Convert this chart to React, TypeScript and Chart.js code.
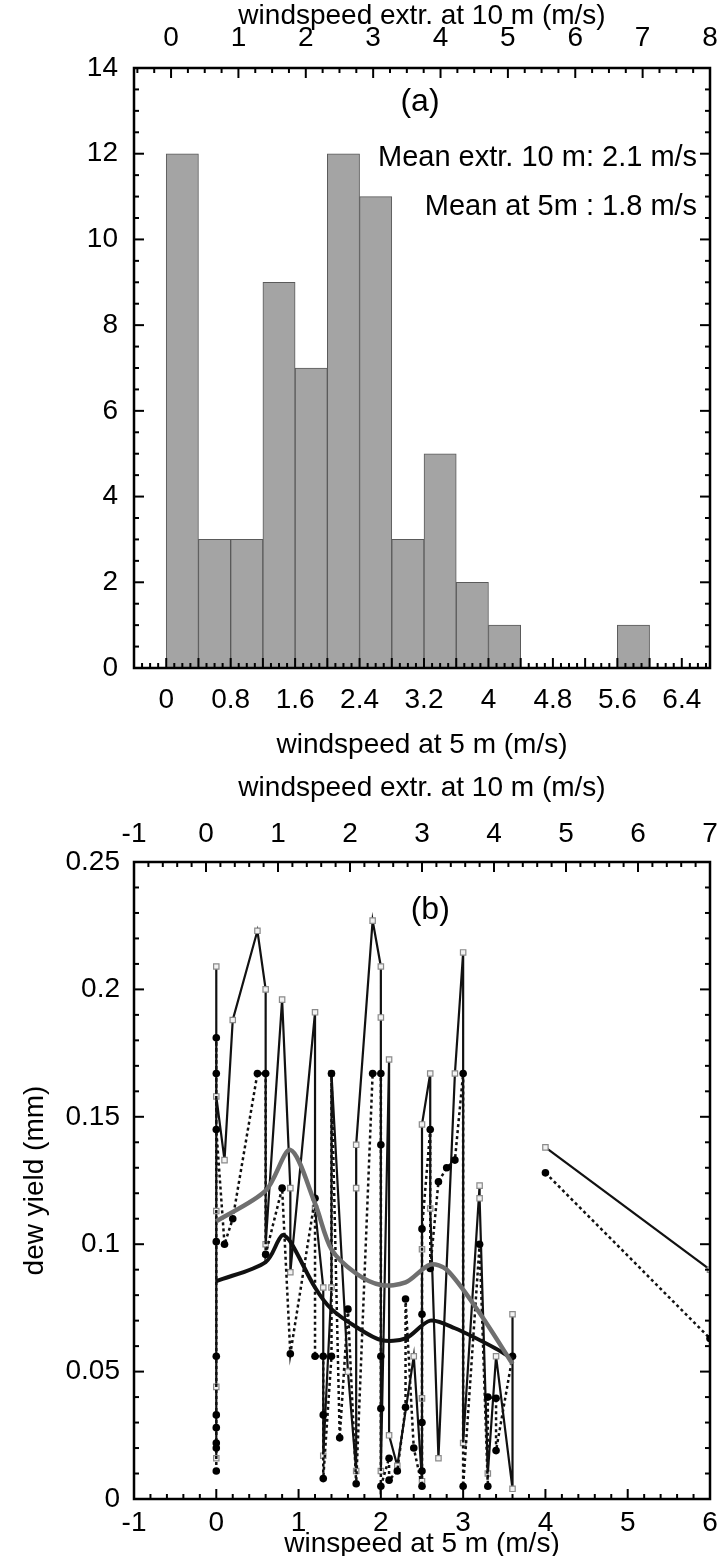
import React, { useEffect, useRef } from "react";
import { Chart, registerables } from "chart.js";
Chart.register(...registerables);

const FONT = "'Liberation Sans', Arial, sans-serif";

// ---------- (a) histogram ----------
const binCenters = [0.2, 0.6, 1.0, 1.4, 1.8, 2.2, 2.6, 3.0, 3.4, 3.8, 4.2, 4.6, 5.0, 5.4, 5.8, 6.2];
const binCounts = [12, 3, 3, 9, 7, 12, 11, 3, 5, 2, 1, 0, 0, 0, 1, 0];
const histBottomTicks = [0, 0.8, 1.6, 2.4, 3.2, 4, 4.8, 5.6, 6.4];
const histTopTicks = [0, 1, 2, 3, 4, 5, 6, 7, 8];
const histYTicks = [0, 2, 4, 6, 8, 10, 12, 14];

// ---------- (b) dew yield ----------
const sqX = [0, 0, 0, 0, 0, 0.1, 0.2, 0.5, 0.6, 0.6, 0.8, 0.9, 0.9, 1.2, 1.2, 1.3, 1.3, 1.4, 1.4, 1.6, 1.7, 1.7, 1.7, 1.9, 2.0, 2.0, 2.0, 2.1, 2.1, 2.2, 2.4, 2.5, 2.5, 2.5, 2.5, 2.6, 2.6, 2.7, 2.9, 3.0, 3.0, 3.2, 3.2, 3.3, 3.4, 3.6, 3.6];
const sqY = [0.016, 0.044, 0.113, 0.209, 0.158, 0.133, 0.188, 0.223, 0.2, 0.1, 0.196, 0.122, 0.089, 0.191, 0.114, 0.083, 0.017, 0.083, 0.167, 0.05, 0.011, 0.122, 0.139, 0.227, 0.209, 0.189, 0.011, 0.1725, 0.025, 0.013, 0.056, 0.007, 0.0395, 0.098, 0.147, 0.167, 0.114, 0.016, 0.167, 0.2145, 0.022, 0.123, 0.118, 0.01, 0.056, 0.004, 0.0725];
const ciX = [0, 0, 0, 0, 0, 0, 0, 0, 0, 0, 0.1, 0.2, 0.5, 0.6, 0.6, 0.8, 0.9, 1.2, 1.2, 1.3, 1.3, 1.3, 1.4, 1.4, 1.5, 1.6, 1.7, 1.9, 2.0, 2.0, 2.0, 2.0, 2.0, 2.1, 2.1, 2.2, 2.3, 2.3, 2.4, 2.5, 2.5, 2.5, 2.5, 2.5, 2.6, 2.6, 2.7, 2.8, 2.9, 3.0, 3.0, 3.2, 3.3, 3.3, 3.4, 3.4, 3.6];
const ciY = [0.011, 0.02, 0.022, 0.028, 0.033, 0.056, 0.101, 0.181, 0.167, 0.145, 0.1, 0.11, 0.167, 0.167, 0.096, 0.122, 0.057, 0.118, 0.056, 0.056, 0.033, 0.008, 0.056, 0.167, 0.024, 0.0745, 0.006, 0.167, 0.167, 0.139, 0.056, 0.0355, 0.005, 0.016, 0.0074, 0.011, 0.036, 0.0785, 0.02, 0.005, 0.011, 0.03, 0.0725, 0.106, 0.145, 0.0905, 0.1245, 0.13, 0.133, 0.167, 0.005, 0.1, 0.005, 0.04, 0.0395, 0.019, 0.056];
const sqRightX = [4, 6];
const sqRightY = [0.138, 0.09];
const ciRightX = [4, 6];
const ciRightY = [0.128, 0.063];
const grayMeanX = [0, 0.6, 0.9, 1.2, 1.4, 1.7, 2.0, 2.3, 2.6, 2.8, 3.2, 3.6];
const grayMeanY = [0.109, 0.121, 0.137, 0.116, 0.098, 0.0885, 0.084, 0.085, 0.092, 0.09, 0.073, 0.053];
const blackMeanX = [0, 0.6, 0.8, 0.9, 1.2, 1.4, 1.7, 2.0, 2.3, 2.6, 2.9, 3.4, 3.6];
const blackMeanY = [0.0855, 0.093, 0.1035, 0.101, 0.083, 0.0745, 0.0675, 0.0624, 0.063, 0.07, 0.067, 0.059, 0.055];
const dewBottomTicks = [-1, 0, 1, 2, 3, 4, 5, 6];
const dewTopTicks = [-1, 0, 1, 2, 3, 4, 5, 6, 7];
const dewYTicks = [0, 0.05, 0.1, 0.15, 0.2, 0.25];

const pts = (xs: number[], ys: number[]) => xs.map((x, i) => ({ x, y: ys[i] }));

const framePlugin = {
  id: "frameTicks",
  afterDatasetsDraw(chart: any, _a: any, opts: any) {
    const { ctx, chartArea } = chart;
    const { left, right, top, bottom } = chartArea;
    ctx.save();
    ctx.strokeStyle = "#000";
    ctx.lineWidth = 2;
    for (const spec of opts.specs || []) {
      const scale = chart.scales[spec.scale];
      const start = Math.ceil(scale.min / spec.minor - 1e-6);
      for (let k = start; k * spec.minor <= scale.max + 1e-9; k++) {
        const v = k * spec.minor;
        const r = v / spec.major;
        const isMajor = Math.abs(r - Math.round(r)) < 1e-6;
        const len = isMajor ? 10 : 5;
        const p = scale.getPixelForValue(v);
        ctx.beginPath();
        if (spec.side === "bottom") { ctx.moveTo(p, bottom); ctx.lineTo(p, bottom - len); }
        if (spec.side === "top") { ctx.moveTo(p, top); ctx.lineTo(p, top + len); }
        if (spec.side === "left") { ctx.moveTo(left, p); ctx.lineTo(left + len, p); }
        if (spec.side === "right") { ctx.moveTo(right, p); ctx.lineTo(right - len, p); }
        ctx.stroke();
      }
    }
    ctx.lineWidth = 2.5;
    ctx.strokeRect(left, top, right - left, bottom - top);
    ctx.fillStyle = "#000";
    ctx.textBaseline = "middle";
    for (const t of opts.texts || []) {
      ctx.font = `${t.size}px ${FONT}`;
      ctx.textAlign = t.align;
      ctx.fillText(t.text, chart.scales.x.getPixelForValue(t.x), chart.scales.y.getPixelForValue(t.y));
    }
    ctx.restore();
  },
};

const tickFont = { family: FONT, size: 28 };
const fixedTicks = (arr: number[]) => (scale: any) => {
  scale.ticks = arr.map((value) => ({ value }));
};
const noGrid = { display: false, drawTicks: false };
const hFit = (h: number) => (s: any) => {
  s.height = h;
  s.paddingLeft = 0;
  s.paddingRight = 0;
};
const vFit = (w: number) => (s: any) => {
  s.width = w;
  s.paddingTop = 0;
  s.paddingBottom = 0;
};
const lbl = (v: any) => String(v);

function HistChart() {
  const ref = useRef<HTMLCanvasElement>(null);
  useEffect(() => {
    const chart = new Chart(ref.current!, {
      type: "bar",
      data: {
        datasets: [
          {
            data: binCenters.map((x, i) => ({ x, y: binCounts[i] === 0 ? null : binCounts[i] })) as any,
            backgroundColor: "#a4a4a4",
            borderColor: "#5a5a5a",
            borderWidth: 1,
            barPercentage: 1,
            categoryPercentage: 1,
            xAxisID: "x",
          },
        ],
      },
      options: {
        responsive: false,
        animation: false,
        devicePixelRatio: 1,
        layout: { padding: { left: 0, right: 11, top: 0, bottom: 0 } },
        plugins: {
          legend: { display: false },
          tooltip: { enabled: false },
          frameTicks: {
            specs: [
              { scale: "x", side: "bottom", minor: 0.1, major: 0.4 },
              { scale: "x2", side: "top", minor: 0.25, major: 1 },
              { scale: "y", side: "left", minor: 0.5, major: 2 },
              { scale: "y", side: "right", minor: 0.5, major: 2 },
            ],
            texts: [
              { text: "(a)", x: 3.15, y: 13.2, align: "center", size: 32 },
              { text: "Mean extr. 10 m: 2.1 m/s", x: 6.59, y: 11.9, align: "right", size: 29 },
              { text: "Mean at 5m : 1.8 m/s", x: 6.59, y: 10.76, align: "right", size: 29 },
            ],
          },
        } as any,
        scales: {
          x: {
            type: "linear",
            position: "bottom",
            min: -0.4,
            max: 6.75,
            offset: false,
            grid: noGrid,
            border: { display: false },
            afterBuildTicks: fixedTicks(histBottomTicks),
            ticks: { font: tickFont, color: "#000", padding: 15, maxRotation: 0, autoSkip: false, callback: lbl },
            title: { display: true, text: "windspeed at 5 m (m/s)", font: tickFont, color: "#000", padding: { top: 0, bottom: 8 } },
            afterFit: hFit(102),
          },
          x2: {
            type: "linear",
            position: "top",
            min: -0.55,
            max: 8,
            offset: false,
            grid: noGrid,
            border: { display: false },
            afterBuildTicks: fixedTicks(histTopTicks),
            ticks: { font: tickFont, color: "#000", padding: 13, maxRotation: 0, autoSkip: false, callback: lbl },
            title: { display: true, text: "windspeed extr. at 10 m (m/s)", font: tickFont, color: "#000", padding: { top: -1, bottom: 0 } },
            afterFit: hFit(68),
          },
          y: {
            type: "linear",
            min: 0,
            max: 14,
            grid: noGrid,
            border: { display: false },
            afterBuildTicks: fixedTicks(histYTicks),
            ticks: { font: tickFont, color: "#000", padding: 16, callback: lbl },
            afterFit: vFit(134),
          },
        },
      } as any,
      plugins: [framePlugin as any],
    });
    return () => chart.destroy();
  }, []);
  return <canvas ref={ref} width={721} height={770} style={{ display: "block" }} />;
}

function DewChart() {
  const ref = useRef<HTMLCanvasElement>(null);
  useEffect(() => {
    const line = (xs: number[], ys: number[], extra: any) => ({
      data: pts(xs, ys),
      showLine: true,
      xAxisID: "x",
      yAxisID: "y",
      ...extra,
    });
    const sqStyle = {
      borderColor: "#111",
      borderWidth: 2.2,
      pointStyle: "rect",
      pointRadius: 3.8,
      pointBorderColor: "#8a8a8a",
      pointBackgroundColor: "#f2f2f2",
      pointBorderWidth: 1.2,
      order: 2,
    };
    const ciStyle = {
      borderColor: "#111",
      borderWidth: 2.5,
      borderDash: [3, 3],
      pointStyle: "circle",
      pointRadius: 3.8,
      pointBorderColor: "#000",
      pointBackgroundColor: "#000",
      pointBorderWidth: 0,
      order: 1,
    };
    const chart = new Chart(ref.current!, {
      type: "scatter",
      data: {
        datasets: [
          line(sqX, sqY, sqStyle),
          line(sqRightX, sqRightY, sqStyle),
          line(ciX, ciY, ciStyle),
          line(ciRightX, ciRightY, ciStyle),
          line(grayMeanX, grayMeanY, { borderColor: "#6f6f6f", borderWidth: 4.5, pointRadius: 0, tension: 0.3, order: 0 }),
          line(blackMeanX, blackMeanY, { borderColor: "#111", borderWidth: 4, pointRadius: 0, tension: 0.3, order: 0 }),
        ] as any,
      },
      options: {
        responsive: false,
        animation: false,
        devicePixelRatio: 1,
        layout: { padding: { left: 0, right: 11, top: 0, bottom: 0 } },
        plugins: {
          legend: { display: false },
          tooltip: { enabled: false },
          frameTicks: {
            specs: [
              { scale: "x", side: "bottom", minor: 0.2, major: 1 },
              { scale: "x2", side: "top", minor: 0.2, major: 1 },
              { scale: "y", side: "left", minor: 0.01, major: 0.05 },
              { scale: "y", side: "right", minor: 0.01, major: 0.05 },
            ],
            texts: [{ text: "(b)", x: 2.6, y: 0.231, align: "center", size: 32 }],
          },
        } as any,
        scales: {
          x: {
            type: "linear",
            position: "bottom",
            min: -1,
            max: 6,
            offset: false,
            grid: noGrid,
            border: { display: false },
            afterBuildTicks: fixedTicks(dewBottomTicks),
            ticks: { font: tickFont, color: "#000", padding: 7, maxRotation: 0, autoSkip: false, callback: lbl },
            title: { display: true, text: "winspeed at 5 m (m/s)", font: tickFont, color: "#000", padding: { top: 0, bottom: -5 } },
            afterFit: hFit(57),
          },
          x2: {
            type: "linear",
            position: "top",
            min: -1,
            max: 7,
            offset: false,
            grid: noGrid,
            border: { display: false },
            afterBuildTicks: fixedTicks(dewTopTicks),
            ticks: { font: tickFont, color: "#000", padding: 11, maxRotation: 0, autoSkip: false, callback: lbl },
            title: { display: true, text: "windspeed extr. at 10 m (m/s)", font: tickFont, color: "#000", padding: { top: 1, bottom: 0 } },
            afterFit: hFit(92),
          },
          y: {
            type: "linear",
            min: 0,
            max: 0.25,
            grid: noGrid,
            border: { display: false },
            afterBuildTicks: fixedTicks(dewYTicks),
            ticks: { font: tickFont, color: "#000", padding: 14, callback: lbl },
            title: { display: true, text: "dew yield (mm)", font: tickFont, color: "#000", padding: { top: 18, bottom: 0 } },
            afterFit: vFit(134),
          },
        },
      } as any,
      plugins: [framePlugin as any],
    });
    return () => chart.destroy();
  }, []);
  return <canvas ref={ref} width={721} height={786} style={{ display: "block" }} />;
}

export default function App() {
  return (
    <div style={{ position: "absolute", left: 0, top: 0, width: 721, height: 1556, background: "#fff" }}>
      <HistChart />
      <DewChart />
    </div>
  );
}
